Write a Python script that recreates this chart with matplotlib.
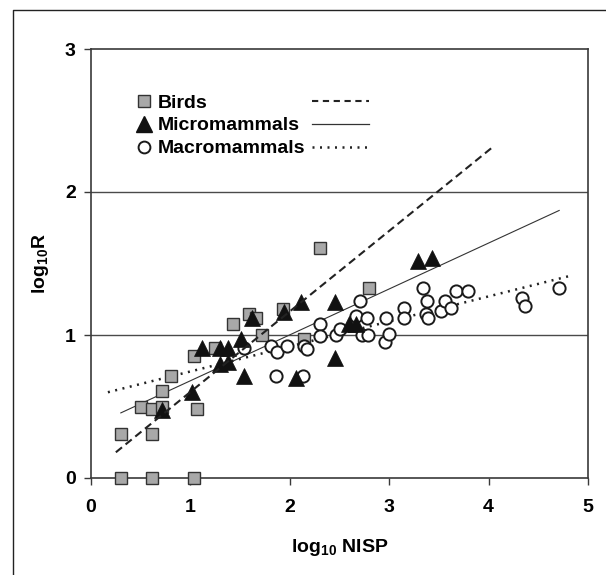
import numpy as np
import matplotlib
matplotlib.use("Agg")
import matplotlib.pyplot as plt
from matplotlib.lines import Line2D

plt.rcParams['font.family'] = ['Liberation Sans', 'DejaVu Sans']
plt.rcParams['font.weight'] = 'bold'
plt.rcParams['mathtext.fontset'] = 'custom'
plt.rcParams['mathtext.rm'] = 'Liberation Sans:bold'
plt.rcParams['mathtext.bf'] = 'Liberation Sans:bold'
plt.rcParams['mathtext.it'] = 'Liberation Sans:bold'

# ---------------- data ----------------
birds_x = [0.30, 0.61, 1.04, 0.30, 0.61, 0.505, 0.61, 0.71, 0.71, 1.07, 0.80,
           1.04, 1.25, 1.43, 1.59, 1.66, 1.72, 1.93, 2.14, 2.30, 2.80]
birds_y = [0.00, 0.00, 0.00, 0.31, 0.31, 0.50, 0.48, 0.50, 0.61, 0.48, 0.71,
           0.85, 0.91, 1.08, 1.15, 1.12, 1.00, 1.18, 0.97, 1.61, 1.33]

micro_x = [0.71, 1.02, 1.12, 1.30, 1.30, 1.38, 1.38, 1.51, 1.54, 1.62, 1.94,
           2.06, 2.11, 2.45, 2.45, 2.60, 2.67, 3.29, 3.43]
micro_y = [0.475, 0.60, 0.91, 0.80, 0.91, 0.91, 0.81, 0.97, 0.71, 1.12, 1.16,
           0.70, 1.23, 1.23, 0.84, 1.08, 1.08, 1.52, 1.54]

macro_x = [1.54, 1.81, 1.87, 1.97, 1.86, 2.13, 2.14, 2.17, 2.30, 2.30, 2.46,
           2.51, 2.67, 2.71, 2.73, 2.79, 2.78, 2.96, 3.00, 2.97, 3.15, 3.15,
           3.34, 3.38, 3.37, 3.39, 3.52, 3.56, 3.62, 3.67, 3.79, 4.34, 4.37, 4.71]
macro_y = [0.91, 0.92, 0.88, 0.92, 0.71, 0.71, 0.92, 0.90, 1.08, 0.99, 1.00,
           1.04, 1.13, 1.24, 1.00, 1.00, 1.12, 0.95, 1.01, 1.12, 1.19, 1.12,
           1.33, 1.24, 1.15, 1.12, 1.17, 1.24, 1.19, 1.31, 1.31, 1.26, 1.20, 1.33]

# regression lines: intercept, slope, x-start, x-end
birds_fit = [0.039, 0.563, 0.25, 4.03]
micro_fit = [0.359, 0.321, 0.30, 4.71]
macro_fit = [0.570, 0.175, 0.17, 4.85]

series_labels = ['Birds', 'Micromammals', 'Macromammals']
x_ticks = [0, 1, 2, 3, 4, 5]
y_ticks = [0, 1, 2, 3]

# ---------------- figure ----------------
W, H = 606, 575
FS = 14
fig = plt.figure(figsize=(W / 100, H / 100), dpi=100)
ax = fig.add_axes([91 / W, 1 - 478 / H, (588 - 91) / W, (478 - 49) / H])

edge = '#3a3a3a'
for y in [1, 2]:
    ax.axhline(y, color='#4a4a4a', lw=1.0, zorder=1)

def fit_line(p):
    xs = np.array([p[2], p[3]])
    return xs, p[0] + p[1] * xs

bx, by = fit_line(birds_fit)
mx, my = fit_line(micro_fit)
cx, cy = fit_line(macro_fit)

ax.plot(mx, my, color='#333333', lw=0.8, zorder=2)
ax.plot(cx, cy, color='#222222', lw=1.8, linestyle=(0, (0.8, 2.2)),
        dash_capstyle='butt', zorder=2)

ax.plot(birds_x, birds_y, linestyle='none', marker='s', markersize=8.5,
        markerfacecolor='#a8a8a8', markeredgecolor='#333333', markeredgewidth=1.0,
        zorder=3, clip_on=False)
ax.plot(macro_x, macro_y, linestyle='none', marker='o', markersize=8.8,
        markerfacecolor='white', markeredgecolor='#1a1a1a', markeredgewidth=1.4,
        zorder=4, clip_on=False)
ax.plot(micro_x, micro_y, linestyle='none', marker='^', markersize=12,
        markerfacecolor='#111111', markeredgecolor='#111111', markeredgewidth=0.5,
        zorder=5, clip_on=False)
ax.plot(bx, by, color='#222222', lw=1.5, linestyle=(0, (3.8, 2.2)), zorder=6)

ax.set_xlim(0, 5)
ax.set_ylim(0, 3)
ax.set_xticks(x_ticks)
ax.set_yticks(y_ticks)
ax.set_xticklabels([str(t) for t in x_ticks], fontsize=FS, fontweight='bold')
ax.set_yticklabels([str(t) for t in y_ticks], fontsize=FS, fontweight='bold')
ax.tick_params(axis='x', direction='out', length=5, width=1, color=edge, pad=10)
ax.tick_params(axis='y', direction='out', length=5, width=1, color=edge, pad=6)
for s in ax.spines.values():
    s.set_color(edge)
    s.set_linewidth(1.2)

ax.set_xlabel(r'$\mathbf{log_{10}\ NISP}$', fontsize=FS, labelpad=15)
ax.set_ylabel(r'$\mathbf{log_{10}R}$', fontsize=FS, labelpad=10)

# legend: markers + names
h_markers = [
    Line2D([], [], linestyle='none', marker='s', markersize=8.5,
           markerfacecolor='#a8a8a8', markeredgecolor='#333333', markeredgewidth=1.0),
    Line2D([], [], linestyle='none', marker='^', markersize=12,
           markerfacecolor='#111111', markeredgecolor='#111111'),
    Line2D([], [], linestyle='none', marker='o', markersize=8.5,
           markerfacecolor='white', markeredgecolor='#1a1a1a', markeredgewidth=1.4),
]
leg1 = ax.legend(h_markers, series_labels, loc='upper left',
                 bbox_to_anchor=((136 - 91) / 497, (478 - 94) / 429),
                 frameon=False, borderpad=0, borderaxespad=0, handlelength=0.8,
                 handletextpad=0.3, labelspacing=0.27,
                 prop={'size': FS, 'weight': 'bold'})
ax.add_artist(leg1)

h_lines = [
    Line2D([], [], color='#222222', lw=1.5, linestyle=(0, (3.0, 2.2))),
    Line2D([], [], color='#333333', lw=0.9),
    Line2D([], [], color='#222222', lw=1.8, linestyle=(0, (0.8, 2.2))),
]
leg2 = ax.legend(h_lines, ['', '', ''], loc='upper left',
                 bbox_to_anchor=((312 - 91) / 497, (478 - 94) / 429),
                 frameon=False, borderpad=0, borderaxespad=0, handlelength=57 / (FS * 100 / 72),
                 handletextpad=0, labelspacing=0.27,
                 prop={'size': FS, 'weight': 'bold'})

# outer frame (left and top)
fig.add_artist(Line2D([13 / W, 13 / W, 1.0], [0.0, 1 - 10 / H, 1 - 10 / H],
                      transform=fig.transFigure, color='#222222', lw=1.0))

fig.savefig('out.png', dpi=100)
